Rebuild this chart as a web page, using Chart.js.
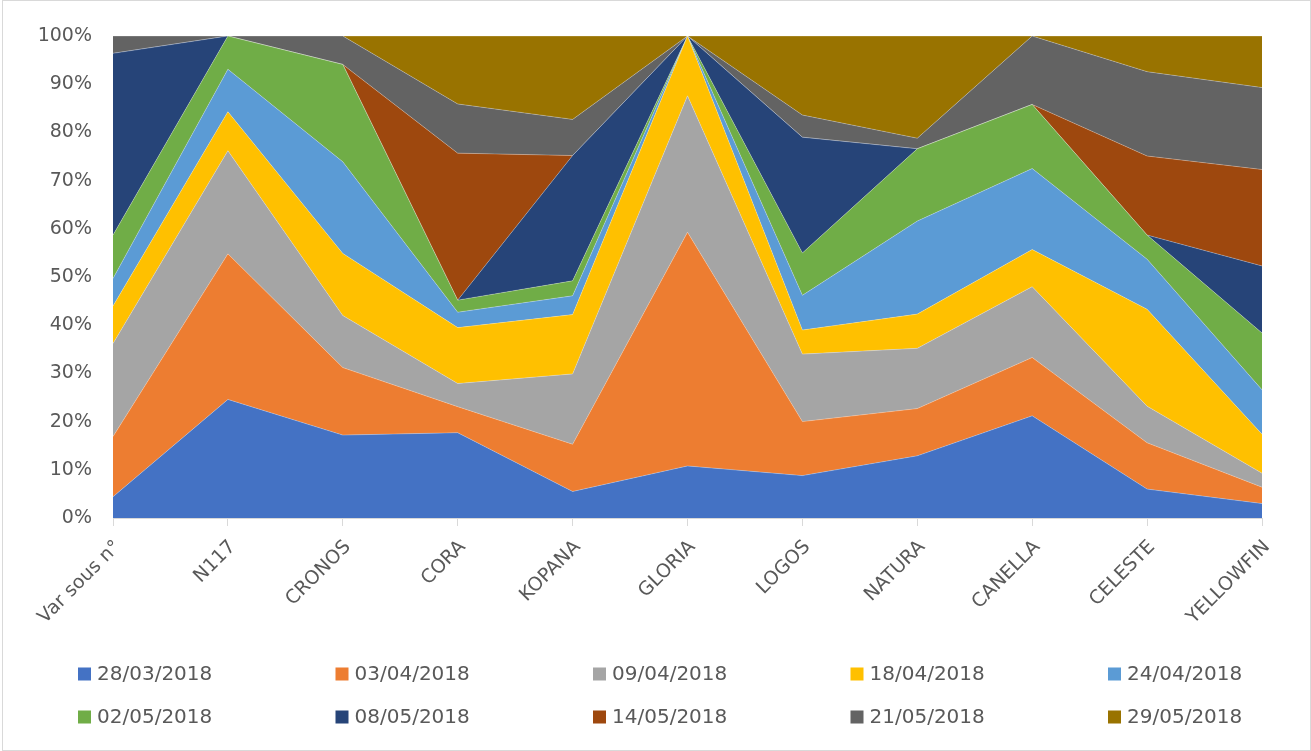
<!DOCTYPE html>
<html>
<head>
<meta charset="utf-8">
<script src="https://cdn.jsdelivr.net/npm/chart.js@4.4.1/dist/chart.umd.min.js"></script>
<style>
  html, body { margin: 0; padding: 0; background: #fff; }
  #wrap { width: 1311px; height: 751px; }
</style>
</head>
<body>
<div id="wrap"><canvas id="areaChart" width="1311" height="751"></canvas></div>
<script>
// Categories and series (share per variety, %)
const categories = ['Var sous n°', 'N117', 'CRONOS', 'CORA', 'KOPANA', 'GLORIA', 'LOGOS', 'NATURA', 'CANELLA', 'CELESTE', 'YELLOWFIN'];
const dates = ['28/03/2018', '03/04/2018', '09/04/2018', '18/04/2018', '24/04/2018', '02/05/2018', '08/05/2018', '14/05/2018', '21/05/2018', '29/05/2018'];

const v2803 = [4.4, 24.6, 17.2, 17.7, 5.5, 10.8, 8.8, 12.9, 21.2, 6.0, 3.0];
const v0304 = [12.5, 30.2, 14.0, 5.4, 9.8, 48.5, 11.2, 9.8, 12.1, 9.6, 3.4];
const v0904 = [19.3, 21.4, 10.8, 4.8, 14.6, 28.3, 14.0, 12.5, 14.7, 7.6, 2.9];
const v1804 = [7.8, 8.1, 12.9, 11.6, 12.3, 12.4, 5.0, 7.1, 7.7, 20.1, 8.1];
const v2404 = [5.7, 8.8, 19.0, 3.2, 3.9, 0, 7.2, 19.3, 16.8, 10.4, 9.2];
const v0205 = [9.0, 6.9, 20.2, 2.5, 3.1, 0, 8.8, 15.0, 13.3, 5.0, 11.8];
const v0805 = [37.7, 0, 0, 0, 26.0, 0, 24.0, 0, 0, 0, 13.9];
const v1405 = [0, 0, 0, 30.5, 0, 0, 0, 0, 0, 16.4, 20.0];
const v2105 = [3.6, 0, 5.9, 10.2, 7.5, 0, 4.6, 2.2, 14.2, 17.5, 17.0];
const v2905 = [0, 0, 0, 14.1, 17.3, 0, 16.4, 21.2, 0, 7.4, 10.7];

const yTicks = [0, 10, 20, 30, 40, 50, 60, 70, 80, 90, 100];

const colors = ['#4472C4', '#ED7D31', '#A5A5A5', '#FFC000', '#5B9BD5', '#70AD47', '#264478', '#9E480E', '#636363', '#997300'];

const seriesValues = [v2803, v0304, v0904, v1804, v2404, v0205, v0805, v1405, v2105, v2905];

// 100% stacked: scale each category to its total
const totals = categories.map((c, i) => seriesValues.reduce((s, arr) => s + arr[i], 0));
const percent = arr => arr.map((v, i) => totals[i] ? v / totals[i] * 100 : 0);

const textColor = '#595959';
const lineColor = '#D9D9D9';
const fontFamily = '"DejaVu Sans", sans-serif';

const datasets = seriesValues.map((arr, k) => ({
    label: dates[k],
    data: percent(arr),
    backgroundColor: colors[k],
    borderColor: 'rgba(255,255,255,0.45)',
    borderWidth: 0.6,
    pointRadius: 0,
    tension: 0,
    fill: k === 0 ? 'origin' : '-1'
}));

// White background, outer frame and a grid legend (5 per row)
const frameAndLegend = {
    id: 'frameAndLegend',
    beforeDraw(chart) {
        const ctx = chart.ctx;
        ctx.save();
        ctx.fillStyle = '#fff';
        ctx.fillRect(0, 0, chart.width, chart.height);
        ctx.restore();
    },
    afterDraw(chart) {
        const ctx = chart.ctx;
        ctx.save();
        ctx.strokeStyle = lineColor;
        ctx.lineWidth = 1;
        ctx.strokeRect(2.5, 0.5, chart.width - 3, chart.height - 1);

        const startX = 78, pitch = 257.5, rows = [674, 717], box = 13;
        ctx.font = '20px ' + fontFamily;
        ctx.textBaseline = 'middle';
        ctx.textAlign = 'left';
        chart.data.datasets.forEach((ds, i) => {
            const col = i % 5, row = Math.floor(i / 5);
            const x = startX + col * pitch;
            const y = rows[row];
            ctx.fillStyle = ds.backgroundColor;
            ctx.fillRect(x, y - box / 2, box, box);
            ctx.fillStyle = textColor;
            ctx.fillText(ds.label, x + 19, y + 1);
        });
        ctx.restore();
    }
};

const areaCtx = document.getElementById('areaChart').getContext('2d');
const areaChart = new Chart(areaCtx, {
    type: 'line',
    data: {
        labels: categories,
        datasets: datasets
    },
    options: {
        responsive: false,
        animation: false,
        layout: {
            padding: { top: 36, right: 49, bottom: 0, left: 0 }
        },
        scales: {
            x: {
                offset: false,
                afterFit: function(scale) { scale.height = 233; },
                grid: {
                    display: true,
                    drawOnChartArea: false,
                    drawTicks: true,
                    tickLength: 8,
                    color: lineColor
                },
                border: { display: true, color: lineColor, width: 1 },
                ticks: {
                    autoSkip: false,
                    maxRotation: 45,
                    minRotation: 45,
                    padding: 10,
                    labelOffset: 5,
                    color: textColor,
                    font: { family: fontFamily, size: 19 }
                }
            },
            y: {
                stacked: true,
                min: 0,
                max: 100,
                afterFit: function(scale) { scale.width = 113; },
                afterBuildTicks: function(scale) {
                    scale.ticks = yTicks.map(v => ({ value: v }));
                },
                grid: {
                    color: lineColor,
                    drawTicks: false
                },
                border: { display: false },
                ticks: {
                    padding: 21,
                    color: textColor,
                    font: { family: fontFamily, size: 19 },
                    callback: function(value) { return value + '%'; }
                }
            }
        },
        plugins: {
            legend: { display: false },
            tooltip: { enabled: false }
        }
    },
    plugins: [frameAndLegend]
});
</script>
</body>
</html>
